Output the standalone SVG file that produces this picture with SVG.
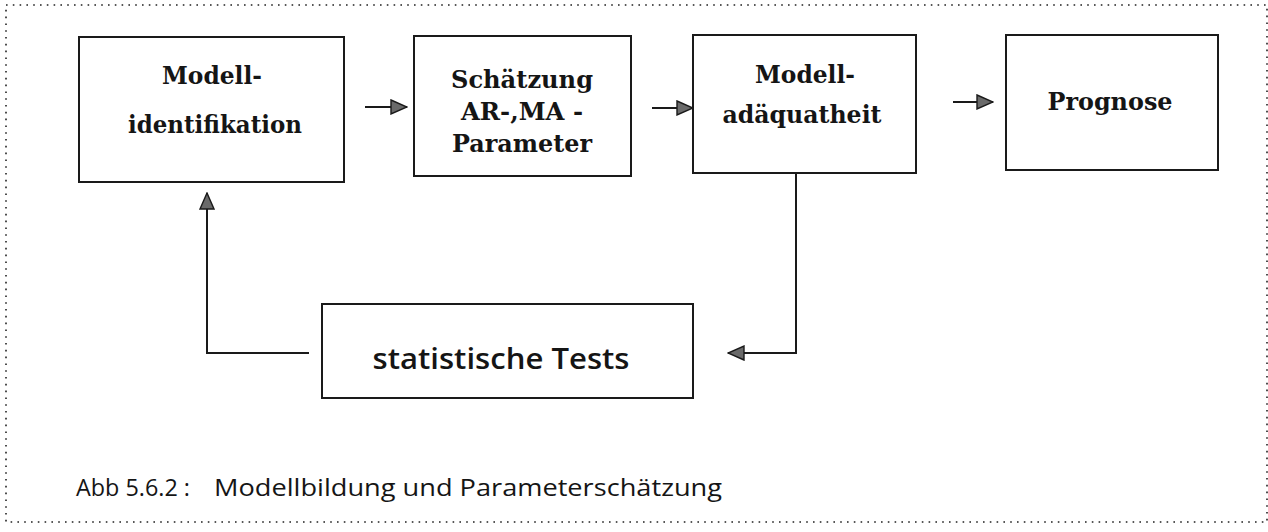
<svg xmlns="http://www.w3.org/2000/svg" width="1268" height="532" viewBox="0 0 1268 532">
  <style>
    .box { fill: #ffffff; stroke: #1a1a1a; stroke-width: 2; }
    .frame { fill: none; stroke: #222; stroke-width: 1.6; stroke-dasharray: 1.6 5.2; }
    .wire { fill: none; stroke: #1a1a1a; stroke-width: 2; }
    .lbl { font-family: "DejaVu Serif", "Liberation Serif", serif; font-weight: bold; font-size: 24px; fill: #151515; text-anchor: middle; }
    .sans { font-family: "Open Sans", "Noto Sans", "Liberation Sans", sans-serif; fill: #151515; }
  </style>
  <defs>
    <marker id="head" viewBox="0 0 18 16" refX="17" refY="8" markerWidth="18" markerHeight="16" markerUnits="userSpaceOnUse" orient="auto">
      <path d="M1,1 L17,8 L1,15 Z" fill="#6a6a6a" stroke="#1a1a1a" stroke-width="1.4" stroke-linejoin="miter"/>
    </marker>
  </defs>

  <!-- dotted outer frame -->
  <rect class="frame" x="6" y="5" width="1261" height="517"/>

  <g id="node-identifikation">
    <rect class="box" x="79" y="37" width="265" height="145"/>
    <text class="lbl" x="212" y="84" textLength="100" lengthAdjust="spacingAndGlyphs">Modell-</text>
    <text class="lbl" x="215" y="133" textLength="174" lengthAdjust="spacingAndGlyphs">identifikation</text>
  </g>

  <g id="node-schaetzung">
    <rect class="box" x="414" y="36" width="217" height="140"/>
    <text class="lbl" x="522" y="88" textLength="142" lengthAdjust="spacingAndGlyphs">Schätzung</text>
    <text class="lbl" x="522" y="120" textLength="122" lengthAdjust="spacingAndGlyphs">AR-,MA -</text>
    <text class="lbl" x="522" y="152" textLength="140" lengthAdjust="spacingAndGlyphs">Parameter</text>
  </g>

  <g id="node-adaequatheit">
    <rect class="box" x="693" y="35" width="223" height="138"/>
    <text class="lbl" x="805" y="83" textLength="100" lengthAdjust="spacingAndGlyphs">Modell-</text>
    <text class="lbl" x="802" y="123" textLength="159" lengthAdjust="spacingAndGlyphs">adäquatheit</text>
  </g>

  <g id="node-prognose">
    <rect class="box" x="1006" y="35" width="212" height="135"/>
    <text class="lbl" x="1110" y="110" textLength="125" lengthAdjust="spacingAndGlyphs">Prognose</text>
  </g>

  <g id="node-tests">
    <rect class="box" x="322" y="304" width="371" height="94"/>
    <text class="sans" x="501" y="369" font-size="28" font-weight="600" text-anchor="middle" textLength="257" lengthAdjust="spacingAndGlyphs">statistische Tests</text>
  </g>

  <g id="connectors">
    <line class="wire" x1="365" y1="107" x2="407" y2="107" marker-end="url(#head)"/>
    <line class="wire" x1="652" y1="108" x2="693" y2="108" marker-end="url(#head)"/>
    <line class="wire" x1="953" y1="102" x2="993" y2="102" marker-end="url(#head)"/>
    <polyline class="wire" points="796,173 796,353 728,353" marker-end="url(#head)"/>
    <polyline class="wire" points="309,353 207,353 207,193" marker-end="url(#head)"/>
  </g>

  <text class="sans" y="496" font-size="24" font-weight="500"><tspan x="76" textLength="114" lengthAdjust="spacingAndGlyphs">Abb 5.6.2 :</tspan><tspan x="214" textLength="508" lengthAdjust="spacingAndGlyphs">Modellbildung und Parameterschätzung</tspan></text>
</svg>
